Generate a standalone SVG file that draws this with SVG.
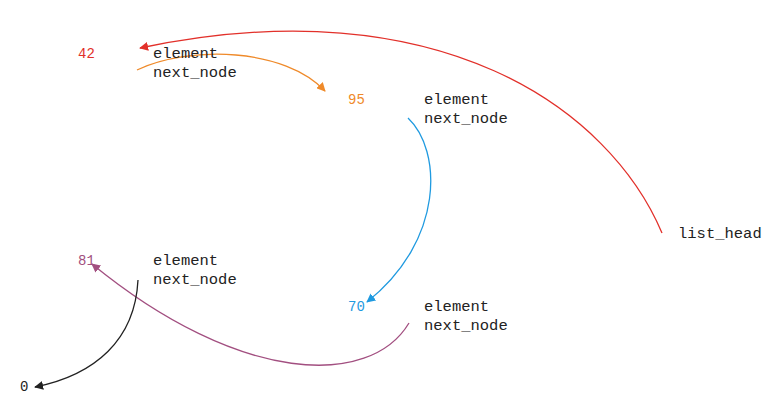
<svg xmlns="http://www.w3.org/2000/svg" width="777" height="415" viewBox="0 0 777 415">
<defs>
<style>
.t{font-family:"Liberation Mono","Courier New",monospace;font-size:15.5px;fill:#222}
.n{font-family:"Liberation Mono","Courier New",monospace;font-size:14px}
.c{fill:none;stroke-width:1.3}
</style>
<marker id="mr" viewBox="0 0 10 10" refX="9" refY="5" markerWidth="9" markerHeight="9" markerUnits="userSpaceOnUse" orient="auto"><path d="M0,0 L10,5 L0,10 z" fill="#e2302a"/></marker>
<marker id="mo" viewBox="0 0 10 10" refX="9" refY="5" markerWidth="9" markerHeight="9" markerUnits="userSpaceOnUse" orient="auto"><path d="M0,0 L10,5 L0,10 z" fill="#ef8a2a"/></marker>
<marker id="mb" viewBox="0 0 10 10" refX="9" refY="5" markerWidth="9" markerHeight="9" markerUnits="userSpaceOnUse" orient="auto"><path d="M0,0 L10,5 L0,10 z" fill="#1f9ae0"/></marker>
<marker id="mp" viewBox="0 0 10 10" refX="9" refY="5" markerWidth="9" markerHeight="9" markerUnits="userSpaceOnUse" orient="auto"><path d="M0,0 L10,5 L0,10 z" fill="#a24f80"/></marker>
<marker id="mk" viewBox="0 0 10 10" refX="9" refY="5" markerWidth="9" markerHeight="9" markerUnits="userSpaceOnUse" orient="auto"><path d="M0,0 L10,5 L0,10 z" fill="#222"/></marker>
</defs>
<rect width="777" height="415" fill="#fff"/>
<g id="connectors">
<path class="c" stroke="#e2302a" marker-end="url(#mr)" d="M662,233 C610,110 440,-15 140,48"/>
<path class="c" stroke="#ef8a2a" marker-end="url(#mo)" d="M137,70 C190,45 285,48 325,91"/>
<path class="c" stroke="#1f9ae0" marker-end="url(#mb)" d="M408,118 C442,150 445,240 367,302"/>
<path class="c" stroke="#a24f80" marker-end="url(#mp)" d="M409,323 C370,388 240,385 92,264"/>
<path class="c" stroke="#222" marker-end="url(#mk)" d="M138,280 C135,340 95,375 35,387"/>
</g>
<g id="node42">
<text class="n" x="78" y="58" fill="#e2302a">42</text>
<text class="t" x="153" y="58">element</text>
<text class="t" x="153" y="77">next_node</text>
</g>
<g id="node95">
<text class="n" x="348" y="104" fill="#ef8a2a">95</text>
<text class="t" x="424" y="104">element</text>
<text class="t" x="424" y="123">next_node</text>
</g>
<g id="node81">
<text class="n" x="78" y="265" fill="#a24f80">81</text>
<text class="t" x="153" y="265">element</text>
<text class="t" x="153" y="284">next_node</text>
</g>
<g id="node70">
<text class="n" x="348" y="311" fill="#1f9ae0">70</text>
<text class="t" x="424" y="311">element</text>
<text class="t" x="424" y="330">next_node</text>
</g>
<g id="list_head">
<text class="t" x="678" y="238">list_head</text>
</g>
<g id="null">
<text class="n" x="20" y="391" fill="#222">0</text>
</g>
</svg>
